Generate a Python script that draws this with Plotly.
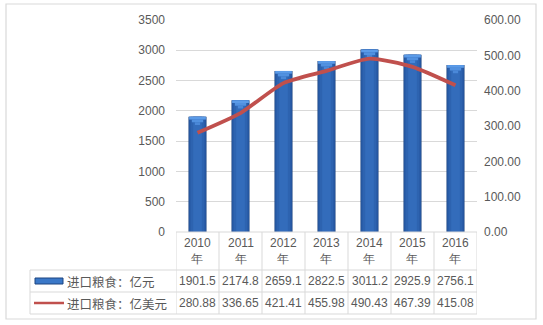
import plotly.graph_objects as go

years = ["2010", "2011", "2012", "2013", "2014", "2015", "2016"]
cny = [1901.5, 2174.8, 2659.1, 2822.5, 3011.2, 2925.9, 2756.1]
usd = [280.88, 336.65, 421.41, 455.98, 490.43, 467.39, 415.08]
series_names = ["进口粮食：亿元", "进口粮食：亿美元"]

W, H = 543, 325
L, R, T, B = 176, 66, 20, 93
PW, PH = W - L - R, H - T - B

def px_x(px):
    return (px - L) / PW

def px_y(py):
    return (H - B - py) / PH

TXT = "#595959"
GRID = "#d9d9d9"
NUM_FONT = dict(family="Liberation Sans, Arial", size=12, color=TXT)
CJK_FONT = dict(family="Noto Sans CJK SC", size=12.5, color=TXT)

xs = list(range(len(years)))
fig = go.Figure()

# cylinder-like bars: layered widths from dark edge to lighter centre
layers = [(0.42, "#1c4380"), (0.39, "#275aa4"), (0.32, "#2d63b0"), (0.2, "#336cbb")]
for w, c in layers:
    fig.add_trace(go.Bar(x=xs, y=cny, width=w, marker=dict(color=c, line=dict(width=0)),
                         showlegend=False, hoverinfo="skip"))
# lighter tapered cap on the top of each bar
cap_h = 45
for w, c, k in [(0.39, "#5b9be8", 1), (0.26, "#5191e0", 2), (0.12, "#4a88d8", 3)]:
    fig.add_trace(go.Bar(x=xs, y=[cap_h] * len(cny), base=[v - k * cap_h for v in cny],
                         width=w, marker=dict(color=c, line=dict(width=0)),
                         showlegend=False, hoverinfo="skip"))

fig.add_trace(go.Scatter(x=xs, y=usd, yaxis="y2", mode="lines",
                         line=dict(color="#c0504d", width=3.8, shape="spline", smoothing=0.6),
                         showlegend=False, hoverinfo="skip"))

shapes = []
# outer frame
shapes.append(dict(type="rect", xref="paper", yref="paper",
                   x0=px_x(6), x1=px_x(536), y0=px_y(319), y1=px_y(4),
                   line=dict(color=GRID, width=1.2), fillcolor="rgba(0,0,0,0)", layer="below"))
# data table grid
tbl_left = px_x(30)
row_lines = [232, 270, 292, 314]
for i, ry in enumerate(row_lines):
    if i == 0:
        shapes.append(dict(type="line", xref="x", yref="paper", x0=-0.5, x1=len(years) - 0.5,
                           y0=px_y(ry), y1=px_y(ry), line=dict(color=GRID, width=1)))
    else:
        shapes.append(dict(type="line", xref="paper", yref="paper", x0=tbl_left, x1=1,
                           y0=px_y(ry), y1=px_y(ry), line=dict(color=GRID, width=1)))
for k in range(len(years) + 1):
    shapes.append(dict(type="line", xref="x", yref="paper", x0=k - 0.5, x1=k - 0.5,
                       y0=px_y(232), y1=px_y(314), line=dict(color=GRID, width=1)))
shapes.append(dict(type="line", xref="paper", yref="paper", x0=tbl_left, x1=tbl_left,
                   y0=px_y(270), y1=px_y(314), line=dict(color=GRID, width=1)))
# legend keys
shapes.append(dict(type="rect", xref="paper", yref="paper", x0=px_x(35), x1=px_x(63),
                   y0=px_y(284), y1=px_y(278), fillcolor="#3a78c8",
                   line=dict(color="#1d4580", width=1)))
shapes.append(dict(type="line", xref="paper", yref="paper", x0=px_x(34), x1=px_x(64),
                   y0=px_y(303), y1=px_y(303), line=dict(color="#c0504d", width=2.5)))

ann = []
for i, yr in enumerate(years):
    ann.append(dict(x=i, xref="x", y=px_y(251), yref="paper", text=f"{yr}<br>年",
                    showarrow=False, yanchor="middle", font=NUM_FONT))
    ann.append(dict(x=i, xref="x", y=px_y(281), yref="paper", text=f"{cny[i]:.1f}",
                    showarrow=False, yanchor="middle", font=NUM_FONT))
    ann.append(dict(x=i, xref="x", y=px_y(303), yref="paper", text=f"{usd[i]:.2f}",
                    showarrow=False, yanchor="middle", font=NUM_FONT))
ann.append(dict(x=px_x(65), xref="paper", y=px_y(281), yref="paper", text=series_names[0],
                showarrow=False, xanchor="left", yanchor="middle", font=CJK_FONT))
ann.append(dict(x=px_x(65), xref="paper", y=px_y(303), yref="paper", text=series_names[1],
                showarrow=False, xanchor="left", yanchor="middle", font=CJK_FONT))

fig.update_layout(
    width=W, height=H,
    margin=dict(l=L, r=R, t=T, b=B),
    paper_bgcolor="white", plot_bgcolor="white",
    barmode="overlay",
    showlegend=False,
    xaxis=dict(range=[-0.5, len(years) - 0.5], showticklabels=False, showgrid=False,
               zeroline=False, showline=False, ticks=""),
    yaxis=dict(range=[0, 3500], dtick=500, gridcolor=GRID, gridwidth=1, zeroline=False,
               showline=False, ticks="", tickfont=NUM_FONT, ticklabelstandoff=10),
    yaxis2=dict(range=[0, 600], dtick=100, overlaying="y", side="right", showgrid=False,
                zeroline=False, showline=False, ticks="", tickformat=".2f",
                tickfont=NUM_FONT, ticklabelstandoff=6),
    shapes=shapes,
    annotations=ann,
)

fig.write_html("out.html")
